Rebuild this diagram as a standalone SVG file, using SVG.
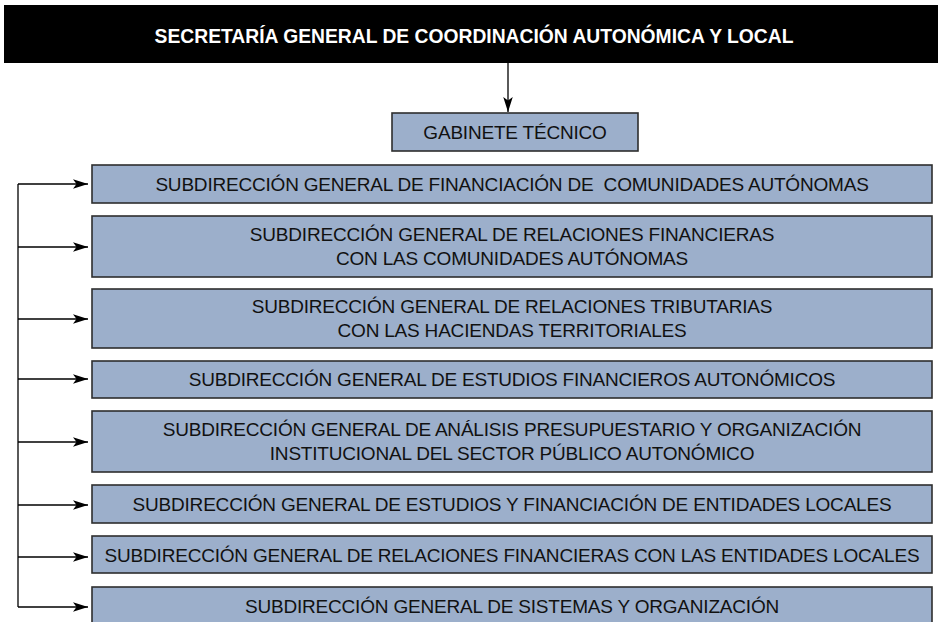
<svg xmlns="http://www.w3.org/2000/svg" width="938" height="622" viewBox="0 0 938 622">
  <defs>
    <style>
      .box { fill: #9cafcb; stroke: #2e2e2e; stroke-width: 1.6; }
      .t { font-family: "Liberation Sans", Arial, sans-serif; font-size: 19px; letter-spacing: -0.2px; fill: #111; text-anchor: middle; }
      .h { font-family: "Liberation Sans", Arial, sans-serif; font-size: 19.3px; font-weight: bold; fill: #fff; text-anchor: middle; }
      .c { stroke: #000; stroke-width: 1.3; fill: none; }
    </style>
    <marker id="ah" markerUnits="userSpaceOnUse" markerWidth="16" markerHeight="10" refX="15" refY="4.75" orient="auto">
      <path d="M0,0 L15,4.75 L0,9.5 L3.5,4.75 Z" fill="#000"/>
    </marker>
  </defs>
  <rect width="938" height="622" fill="#fff"/>

  <g id="secretaria">
    <rect x="4" y="5" width="934" height="58" fill="#000"/>
    <text class="h" x="474" y="43">SECRETARÍA GENERAL DE COORDINACIÓN AUTONÓMICA Y LOCAL</text>
  </g>

  <g id="connectors">
    <line class="c" x1="508" y1="63" x2="508" y2="112" marker-end="url(#ah)"/>
    <line class="c" x1="18" y1="184" x2="18" y2="607"/>
    <line class="c" x1="18" y1="184" x2="88" y2="184" marker-end="url(#ah)"/>
    <line class="c" x1="18" y1="247" x2="88" y2="247" marker-end="url(#ah)"/>
    <line class="c" x1="18" y1="319" x2="88" y2="319" marker-end="url(#ah)"/>
    <line class="c" x1="18" y1="379" x2="88" y2="379" marker-end="url(#ah)"/>
    <line class="c" x1="18" y1="442" x2="88" y2="442" marker-end="url(#ah)"/>
    <line class="c" x1="18" y1="505" x2="88" y2="505" marker-end="url(#ah)"/>
    <line class="c" x1="18" y1="557" x2="88" y2="557" marker-end="url(#ah)"/>
    <line class="c" x1="18" y1="607" x2="88" y2="607" marker-end="url(#ah)"/>
  </g>

  <g id="gabinete">
    <rect class="box" x="392" y="113" width="246" height="38"/>
    <text class="t" x="515" y="139">GABINETE TÉCNICO</text>
  </g>

  <g id="sg1">
    <rect class="box" x="92" y="165" width="840" height="38"/>
    <text class="t" x="512" y="191" xml:space="preserve">SUBDIRECCIÓN GENERAL DE FINANCIACIÓN DE  COMUNIDADES AUTÓNOMAS</text>
  </g>

  <g id="sg2">
    <rect class="box" x="92" y="216" width="840" height="61"/>
    <text class="t" x="512" y="241">SUBDIRECCIÓN GENERAL DE RELACIONES FINANCIERAS</text>
    <text class="t" x="512" y="265">CON LAS COMUNIDADES AUTÓNOMAS</text>
  </g>

  <g id="sg3">
    <rect class="box" x="92" y="289" width="840" height="59"/>
    <text class="t" x="512" y="313">SUBDIRECCIÓN GENERAL DE RELACIONES TRIBUTARIAS</text>
    <text class="t" x="512" y="337">CON LAS HACIENDAS TERRITORIALES</text>
  </g>

  <g id="sg4">
    <rect class="box" x="92" y="361" width="840" height="37"/>
    <text class="t" x="512" y="386">SUBDIRECCIÓN GENERAL DE ESTUDIOS FINANCIEROS AUTONÓMICOS</text>
  </g>

  <g id="sg5">
    <rect class="box" x="92" y="411" width="840" height="61"/>
    <text class="t" x="512" y="436">SUBDIRECCIÓN GENERAL DE ANÁLISIS PRESUPUESTARIO Y ORGANIZACIÓN</text>
    <text class="t" x="512" y="460">INSTITUCIONAL DEL SECTOR PÚBLICO AUTONÓMICO</text>
  </g>

  <g id="sg6">
    <rect class="box" x="92" y="485" width="840" height="38"/>
    <text class="t" x="512" y="511">SUBDIRECCIÓN GENERAL DE ESTUDIOS Y FINANCIACIÓN DE ENTIDADES LOCALES</text>
  </g>

  <g id="sg7">
    <rect class="box" x="92" y="536" width="840" height="37"/>
    <text class="t" x="512" y="562">SUBDIRECCIÓN GENERAL DE RELACIONES FINANCIERAS CON LAS ENTIDADES LOCALES</text>
  </g>

  <g id="sg8">
    <rect class="box" x="92" y="587" width="840" height="40"/>
    <text class="t" x="512" y="613">SUBDIRECCIÓN GENERAL DE SISTEMAS Y ORGANIZACIÓN</text>
  </g>
</svg>
